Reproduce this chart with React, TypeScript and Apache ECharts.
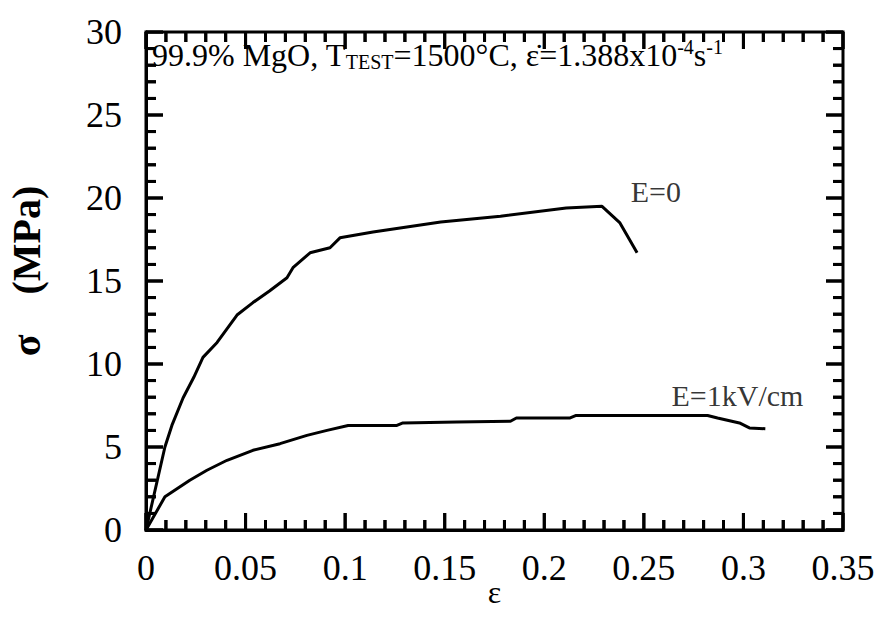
import React, { useEffect, useRef } from "react";
import * as echarts from "echarts";

const FONT = "'Liberation Serif', 'Times New Roman', serif";

const X_MIN = 0;
const X_MAX = 0.35;
const Y_MIN = 0;
const Y_MAX = 30;
const xTicks = [0, 0.05, 0.1, 0.15, 0.2, 0.25, 0.3, 0.35];
const yTicks = [0, 5, 10, 15, 20, 25, 30];
const X_MINOR_STEP = 0.01;
const Y_MINOR_STEP = 1;

const curveE0: [number, number][] = [
  [0, 0], [0.0095, 5.0], [0.013, 6.3], [0.0186, 7.95], [0.024, 9.2], [0.0286, 10.4],
  [0.0357, 11.3], [0.0457, 12.95], [0.0537, 13.7], [0.062, 14.4], [0.0708, 15.2],
  [0.0738, 15.8], [0.0824, 16.7], [0.0924, 17.0], [0.0974, 17.6], [0.114, 17.95],
  [0.131, 18.25], [0.148, 18.55], [0.178, 18.9], [0.211, 19.4], [0.229, 19.5],
  [0.238, 18.5], [0.2466, 16.7],
];

const curveE1: [number, number][] = [
  [0, 0], [0.0095, 2.0], [0.022, 3.0], [0.0306, 3.6], [0.0407, 4.2], [0.0537, 4.8],
  [0.0673, 5.2], [0.0808, 5.7], [0.0909, 6.0], [0.1015, 6.3], [0.126, 6.3],
  [0.129, 6.45], [0.156, 6.5], [0.183, 6.55], [0.186, 6.75], [0.213, 6.75],
  [0.216, 6.9], [0.282, 6.9], [0.287, 6.75], [0.298, 6.45], [0.303, 6.15], [0.311, 6.1],
];

const curveLabels = [
  { name: "E=0", value: [0.256, 20.4] },
  { name: "E=1kV/cm", value: [0.297, 8.1] },
];

const W = 882;
const H = 621;
const GRID = { left: 146, right: 39, top: 32, bottom: 91 };
const MAJOR_LEN_PX = 17;
const MINOR_LEN_PX = 10;

function tickValues(min: number, max: number, step: number, majors: number[]) {
  const out: { v: number; major: boolean }[] = [];
  const n = Math.round((max - min) / step);
  for (let i = 0; i <= n; i++) {
    const v = +(min + i * step).toFixed(6);
    out.push({ v, major: majors.some((m) => Math.abs(m - v) < 1e-9) });
  }
  return out;
}

export default function App() {
  const ref = useRef<HTMLDivElement>(null);
  useEffect(() => {
    if (!ref.current) return;
    const chart = echarts.init(ref.current, null, { renderer: "svg" });

    const plotW = W - GRID.left - GRID.right;
    const plotH = H - GRID.top - GRID.bottom;
    const xPerPx = (X_MAX - X_MIN) / plotW;
    const yPerPx = (Y_MAX - Y_MIN) / plotH;
    const px = (x: number) => GRID.left + ((x - X_MIN) / (X_MAX - X_MIN)) * plotW;
    const py = (y: number) => H - GRID.bottom - ((y - Y_MIN) / (Y_MAX - Y_MIN)) * plotH;

    const tickSegs: any[] = [];
    const tickGraphics: any[] = [];
    const tickStyle = { stroke: "#000", lineWidth: 3 };
    tickValues(X_MIN, X_MAX, X_MINOR_STEP, xTicks).forEach(({ v, major }) => {
      const lenPx = major ? MAJOR_LEN_PX : MINOR_LEN_PX;
      const len = lenPx * yPerPx;
      tickSegs.push([v, Y_MIN], [v, Y_MIN + len], [v, "-"]);
      tickSegs.push([v, Y_MAX], [v, Y_MAX - len], [v, "-"]);
      const x = px(v);
      tickGraphics.push({ type: "line", silent: true, z: 100, shape: { x1: x, y1: py(Y_MIN), x2: x, y2: py(Y_MIN) - lenPx }, style: tickStyle });
      tickGraphics.push({ type: "line", silent: true, z: 100, shape: { x1: x, y1: py(Y_MAX), x2: x, y2: py(Y_MAX) + lenPx }, style: tickStyle });
    });
    tickValues(Y_MIN, Y_MAX, Y_MINOR_STEP, yTicks).forEach(({ v, major }) => {
      const lenPx = major ? MAJOR_LEN_PX : MINOR_LEN_PX;
      const len = lenPx * xPerPx;
      tickSegs.push([X_MIN, v], [X_MIN + len, v], [X_MIN, "-"]);
      tickSegs.push([X_MAX, v], [X_MAX - len, v], [X_MAX, "-"]);
      const y = py(v);
      tickGraphics.push({ type: "line", silent: true, z: 100, shape: { x1: px(X_MIN), y1: y, x2: px(X_MIN) + lenPx, y2: y }, style: tickStyle });
      tickGraphics.push({ type: "line", silent: true, z: 100, shape: { x1: px(X_MAX), y1: y, x2: px(X_MAX) - lenPx, y2: y }, style: tickStyle });
    });

    chart.setOption({
      animation: false,
      grid: {
        ...GRID,
        outerBoundsMode: "none",
        containLabel: false,
        show: true,
        borderColor: "#000",
        borderWidth: 3,
        backgroundColor: "transparent",
      },
      graphic: tickGraphics,
      title: {
        left: 147,
        top: 32,
        text: "99.9% MgO, T{sub|TEST}=1500°C, \u03B5\u0307=1.388x10{sup|-4}s{sup|-1}",
        textStyle: {
          fontFamily: FONT,
          fontSize: 32,
          fontWeight: "normal",
          color: "#000",
          rich: {
            sub: { fontFamily: FONT, fontSize: 20, verticalAlign: "bottom", padding: [15, 0, 0, 0], color: "#000" },
            sup: { fontFamily: FONT, fontSize: 20, verticalAlign: "top", padding: [0, 0, 13, 0], color: "#000" },
          },
        },
      },
      xAxis: {
        type: "value",
        min: X_MIN,
        max: X_MAX,
        interval: 0.05,
        axisLine: { show: true, lineStyle: { color: "#000", width: 3 } },
        axisTick: { show: false },
        splitLine: { show: false },
        name: "\u03B5",
        nameLocation: "middle",
        nameGap: 46,
        nameMoveOverlap: false,
        nameTextStyle: { fontFamily: FONT, fontSize: 32, color: "#000" },
        axisLabel: {
          fontFamily: FONT,
          fontSize: 36,
          color: "#000",
          margin: 20,
          formatter: (v: number) => {
            const t = xTicks.find((k) => Math.abs(k - v) < 1e-9);
            return t === undefined ? "" : String(t);
          },
        },
      },
      yAxis: {
        type: "value",
        min: Y_MIN,
        max: Y_MAX,
        interval: 5,
        axisLine: { show: true, lineStyle: { color: "#000", width: 3 } },
        axisTick: { show: false },
        splitLine: { show: false },
        name: "\u03C3    (MPa)",
        nameLocation: "middle",
        nameRotate: 90,
        nameGap: 100,
        nameTextStyle: { fontFamily: FONT, fontSize: 40, fontWeight: "bold", color: "#000", padding: [0, 0, 0, 20] },
        axisLabel: {
          fontFamily: FONT,
          fontSize: 36,
          color: "#000",
          margin: 24,
          formatter: (v: number) => {
            const t = yTicks.find((k) => Math.abs(k - v) < 1e-9);
            return t === undefined ? "" : String(t);
          },
        },
      },
      series: [
        {
          type: "line",
          data: tickSegs,
          symbol: "none",
          z: 5,
          lineStyle: { color: "#000", width: 3 },
        },
        {
          type: "line",
          data: curveE0,
          symbol: "none",
          lineStyle: { color: "#000", width: 3 },
        },
        {
          type: "line",
          data: curveE1,
          symbol: "none",
          lineStyle: { color: "#000", width: 3 },
        },
        {
          type: "scatter",
          data: curveLabels,
          symbolSize: 1,
          itemStyle: { color: "rgba(0,0,0,0)" },
          label: {
            show: true,
            position: "inside",
            formatter: (p: any) => p.name,
            fontFamily: FONT,
            fontSize: 30,
            color: "#000",
          },
        },
      ],
    });
    return () => chart.dispose();
  }, []);
  return <div ref={ref} style={{ width: W, height: H, position: "absolute", left: 0, top: 0 }} />;
}
